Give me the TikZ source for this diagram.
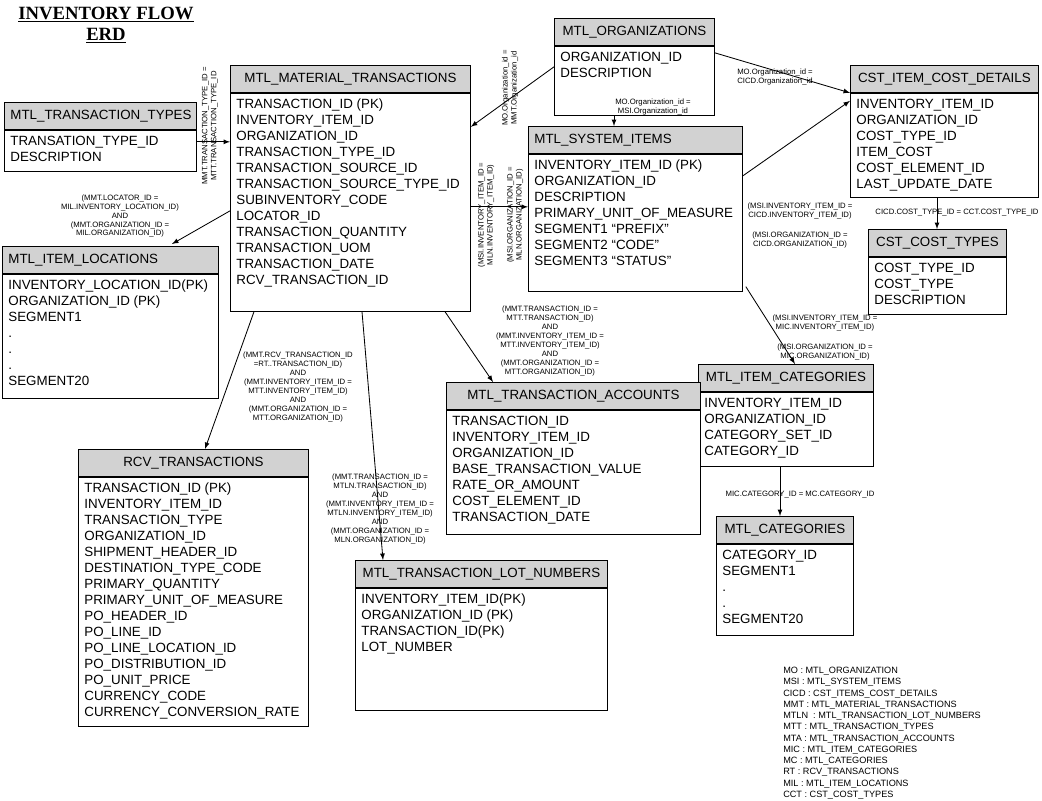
\documentclass[tikz,border=0pt]{standalone}
\usepackage{fontspec}
\setmainfont{Liberation Sans}
\newfontfamily\titlefont{Liberation Serif}
\usetikzlibrary{calc}
\newlength\px \setlength\px{0.025cm}
\newlength\padx \setlength\padx{6\px}
\newlength\hdrh \setlength\hdrh{27\px}
\newlength\entw
\newcommand{\fsz}{\fontsize{9.5}{11.38}\selectfont}
% header node (name) and body node (name b) of one table
\newcommand{\entity}[8][center]{%
  \setlength\entw{#5\px}\addtolength\entw{-12\px}%
  \node[hdr, align=#1, text width=\entw, anchor=north west] (#2) at (#3,#4) {#7};
  \node[tbl, anchor=north west] (#2b) at (#2.south west)
    {\parbox[t][#6\px][t]{\entw}{\fsz\raggedright\rule{0pt}{15.5\px}#8}};
}
\tikzset{
  hdr/.style={draw, fill=gray!35, line width=0.6pt, inner xsep=\padx, inner ysep=0pt,
    minimum height=\hdrh, font=\fsz},
  tbl/.style={draw, fill=white, line width=0.6pt, inner xsep=\padx, inner ysep=0pt},
  lbl/.style={font=\fontsize{5.5}{6.4}\selectfont, align=center, inner sep=0pt},
  rel/.style={->, line width=0.6pt}
}

\begin{document}
\begin{tikzpicture}[x=\px, y=-\px, >=latex]
  \useasboundingbox (0,0) rectangle (1042,801);

  \node[font=\titlefont\bfseries\fontsize{13.3}{15}\selectfont, align=center] (title) at (106,25)
    {\underline{INVENTORY FLOW}\\\underline{ERD}};

  % tables
  \entity{mmt}{230}{65}{240}{218}{MTL\_MATERIAL\_TRANSACTIONS}
    {TRANSACTION\_ID (PK)\\INVENTORY\_ITEM\_ID\\ORGANIZATION\_ID\\TRANSACTION\_TYPE\_ID\\
     TRANSACTION\_SOURCE\_ID\\TRANSACTION\_SOURCE\_TYPE\_ID\\SUBINVENTORY\_CODE\\LOCATOR\_ID\\
     TRANSACTION\_QUANTITY\\TRANSACTION\_UOM\\TRANSACTION\_DATE\\RCV\_TRANSACTION\_ID}
  \entity{mo}{554}{18}{160}{69}{MTL\_ORGANIZATIONS}
    {ORGANIZATION\_ID\\DESCRIPTION}
  \entity{mtt}{4}{102}{192}{41}{MTL\_TRANSACTION\_TYPES}
    {TRANSATION\_TYPE\_ID\\DESCRIPTION}
  \entity[left]{msi}{528}{126}{214}{137}{MTL\_SYSTEM\_ITEMS}
    {INVENTORY\_ITEM\_ID (PK)\\ORGANIZATION\_ID\\DESCRIPTION\\PRIMARY\_UNIT\_OF\_MEASURE\\
     SEGMENT1 “PREFIX”\\SEGMENT2 “CODE”\\SEGMENT3 “STATUS”}
  \entity{cicd}{850}{65}{188}{104}{CST\_ITEM\_COST\_DETAILS}
    {INVENTORY\_ITEM\_ID\\ORGANIZATION\_ID\\COST\_TYPE\_ID\\ITEM\_COST\\COST\_ELEMENT\_ID\\LAST\_UPDATE\_DATE}
  \entity{cct}{868}{229}{138}{57}{CST\_COST\_TYPES}
    {COST\_TYPE\_ID\\COST\_TYPE\\DESCRIPTION}
  \entity[left]{mil}{2}{246}{216}{124}{MTL\_ITEM\_LOCATIONS}
    {INVENTORY\_LOCATION\_ID(PK)\\ORGANIZATION\_ID (PK)\\SEGMENT1\\.\\.\\.\\SEGMENT20}
  \entity{mic}{698}{364}{175}{74}{MTL\_ITEM\_CATEGORIES}
    {INVENTORY\_ITEM\_ID\\ORGANIZATION\_ID\\CATEGORY\_SET\_ID\\CATEGORY\_ID}
  \entity{mta}{446}{382}{254}{124}{MTL\_TRANSACTION\_ACCOUNTS}
    {TRANSACTION\_ID\\INVENTORY\_ITEM\_ID\\ORGANIZATION\_ID\\BASE\_TRANSACTION\_VALUE\\
     RATE\_OR\_AMOUNT\\COST\_ELEMENT\_ID\\TRANSACTION\_DATE}
  \entity{rt}{78}{449}{230}{249}{RCV\_TRANSACTIONS}
    {TRANSACTION\_ID (PK)\\INVENTORY\_ITEM\_ID\\TRANSACTION\_TYPE\\ORGANIZATION\_ID\\
     SHIPMENT\_HEADER\_ID\\DESTINATION\_TYPE\_CODE\\PRIMARY\_QUANTITY\\PRIMARY\_UNIT\_OF\_MEASURE\\
     PO\_HEADER\_ID\\PO\_LINE\_ID\\PO\_LINE\_LOCATION\_ID\\PO\_DISTRIBUTION\_ID\\PO\_UNIT\_PRICE\\
     CURRENCY\_CODE\\CURRENCY\_CONVERSION\_RATE}
  \entity{mc}{716}{516}{137}{91}{MTL\_CATEGORIES}
    {CATEGORY\_ID\\SEGMENT1\\.\\.\\SEGMENT20}
  \entity{mtln}{355}{560}{252}{122}{MTL\_TRANSACTION\_LOT\_NUMBERS}
    {INVENTORY\_ITEM\_ID(PK)\\ORGANIZATION\_ID (PK)\\TRANSACTION\_ID(PK)\\LOT\_NUMBER}

  % relations
  \draw[rel] ($(mttb.north east)+(0,12)$) -- ($(mmtb.north west)+(0,49)$);
  \draw[rel] ($(mob.north west)+(0,21)$) -- ($(mmtb.north east)+(0,34)$);
  \draw[rel] ($(mob.south west)+(60,0)$) -- ($(msi.north west)+(86,0)$);
  \draw[rel] ($(mob.north east)+(0,7)$) -- (cicd.south west);
  \draw[rel] ($(mmtb.north west)+(0,118)$) -- ($(mil.north west)+(170,-2)$);
  \draw[rel] ($(mmtb.north east)+(0,114)$) -- ($(msib.north west)+(0,53)$);
  \draw[rel] ($(msib.north east)+(0,22)$) -- ($(cicdb.north west)+(0,8)$);
  \draw[rel] ($(cicdb.south west)+(87,0)$) -- ($(cct.north west)+(69,0)$);
  \draw[rel] ($(msib.south east)+(3,-5)$) -- ($(mic.north west)+(97,0)$);
  \draw[rel] ($(mmtb.south west)+(215,0)$) -- ($(mta.north west)+(47,0)$);
  \draw[rel] ($(mmtb.south west)+(24,0)$) -- ($(rt.north west)+(127,0)$);
  \draw[rel] ($(mmtb.south west)+(132,0)$) -- ($(mtln.north west)+(28,0)$);
  \draw[rel] ($(micb.south west)+(82,0)$) -- ($(mc.north west)+(64,0)$);

  % join labels
  \node[lbl, rotate=90] (l-mtt) at (210,126) {MMT.TRANSACTION\_TYPE\_ID =\\MTT.TRANSACTION\_TYPE\_ID};
  \node[lbl, rotate=90] (l-mommt) at (510,88) {MO.Organization\_id =\\MMT.Organization\_id};
  \node[lbl] (l-momsi) at (653,107) {MO.Organization\_id =\\MSI.Organization\_id};
  \node[lbl] (l-mocicd) at (775,77) {MO.Organization\_id =\\CICD.Organization\_id};
  \node[lbl] (l-mil) at (120,216) {(MMT.LOCATOR\_ID =\\MIL.INVENTORY\_LOCATION\_ID)\\AND\\
    (MMT.ORGANIZATION\_ID =\\MIL.ORGANIZATION\_ID)};
  \node[lbl, rotate=90] (l-msiitem) at (486,215) {(MSI.INVENTORY\_ITEM\_ID =\\MLN.INVENTORY\_ITEM\_ID)};
  \node[lbl, rotate=90] (l-msiorg) at (515,215) {(MSI.ORGANIZATION\_ID =\\MLN.ORGANIZATION\_ID)};
  \node[lbl] (l-cicditem) at (800,211) {(MSI.INVENTORY\_ITEM\_ID =\\CICD.INVENTORY\_ITEM\_ID)};
  \node[lbl] (l-cicdorg) at (800,240) {(MSI.ORGANIZATION\_ID =\\CICD.ORGANIZATION\_ID)};
  \node[lbl] (l-cct) at (957,213) {CICD.COST\_TYPE\_ID = CCT.COST\_TYPE\_ID};
  \node[lbl] (l-micitem) at (825,323) {(MSI.INVENTORY\_ITEM\_ID =\\MIC.INVENTORY\_ITEM\_ID)};
  \node[lbl] (l-micorg) at (825,352) {(MSI.ORGANIZATION\_ID =\\MIC.ORGANIZATION\_ID)};
  \node[lbl] (l-mta) at (550,341) {(MMT.TRANSACTION\_ID =\\MTT.TRANSACTION\_ID)\\AND\\
    (MMT.INVENTORY\_ITEM\_ID =\\MTT.INVENTORY\_ITEM\_ID)\\AND\\
    (MMT.ORGANIZATION\_ID =\\MTT.ORGANIZATION\_ID)};
  \node[lbl] (l-rt) at (298,387) {(MMT.RCV\_TRANSACTION\_ID\\=RT..TRANSACTION\_ID)\\AND\\
    (MMT.INVENTORY\_ITEM\_ID =\\MTT.INVENTORY\_ITEM\_ID)\\AND\\
    (MMT.ORGANIZATION\_ID =\\MTT.ORGANIZATION\_ID)};
  \node[lbl] (l-mtln) at (380,509) {(MMT.TRANSACTION\_ID =\\MTLN.TRANSACTION\_ID)\\AND\\
    (MMT.INVENTORY\_ITEM\_ID =\\MTLN.INVENTORY\_ITEM\_ID)\\AND\\
    (MMT.ORGANIZATION\_ID =\\MLN.ORGANIZATION\_ID)};
  \node[lbl] (l-mc) at (800,495) {MIC.CATEGORY\_ID = MC.CATEGORY\_ID};

  % abbreviations
  \node[font=\fontsize{6.5}{8}\selectfont, align=left, inner sep=0pt, anchor=north west] (legend) at (783,667)
    {MO : MTL\_ORGANIZATION\\MSI : MTL\_SYSTEM\_ITEMS\\CICD : CST\_ITEMS\_COST\_DETAILS\\
     MMT : MTL\_MATERIAL\_TRANSACTIONS\\MTLN \ : MTL\_TRANSACTION\_LOT\_NUMBERS\\
     MTT : MTL\_TRANSACTION\_TYPES\\MTA : MTL\_TRANSACTION\_ACCOUNTS\\MIC : MTL\_ITEM\_CATEGORIES\\
     MC : MTL\_CATEGORIES\\RT : RCV\_TRANSACTIONS\\MIL : MTL\_ITEM\_LOCATIONS\\CCT : CST\_COST\_TYPES};
\end{tikzpicture}
\end{document}
